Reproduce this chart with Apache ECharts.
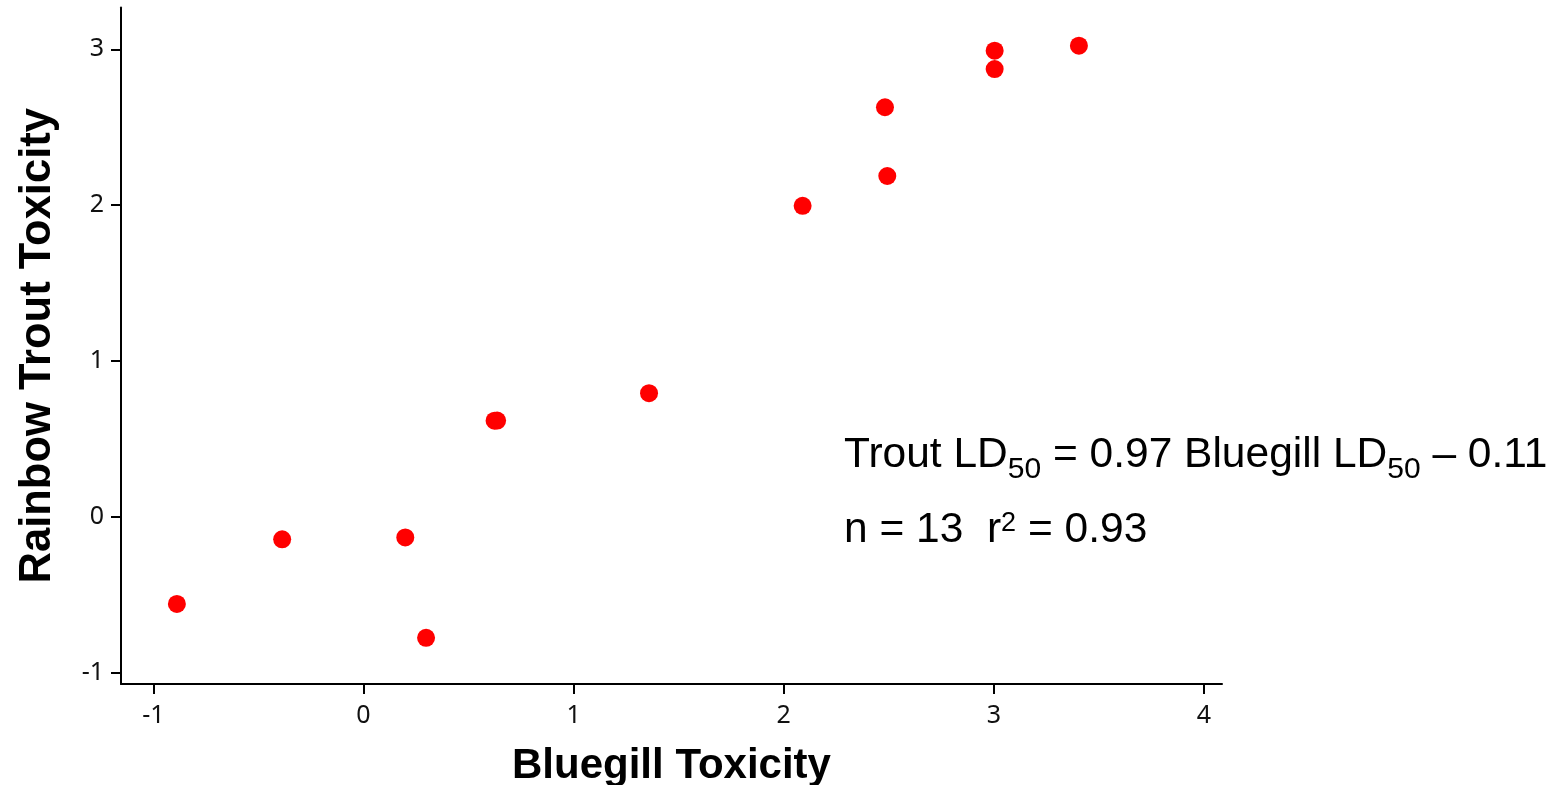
<!DOCTYPE html>
<html>
<head>
<meta charset="utf-8">
<script src="https://cdn.jsdelivr.net/npm/echarts@6/dist/echarts.min.js"></script>
<style>
  html, body { margin: 0; padding: 0; background: #fff; }
  #chart { width: 1564px; height: 785px; }
</style>
</head>
<body>
<div id="chart"></div>
<script>
// 13 species, LD50 on log scale
var bluegill = [-0.888, -0.387, 0.199, 0.298, 0.624, 0.636, 1.359, 2.090, 2.482, 2.493, 3.004, 3.004, 3.405]
var trout = [-0.558, -0.144, -0.132, -0.776, 0.617, 0.618, 0.794, 1.996, 2.628, 2.187, 2.991, 2.873, 3.023]
var xTicks = [-1, 0, 1, 2, 3, 4]
var yTicks = [-1, 0, 1, 2, 3]

var points = bluegill.map(function (x, i) { return [x, trout[i]] })

var chart = echarts.init(document.getElementById('chart'))

var axisBase = {
  type: 'value',
  splitLine: { show: false },
  axisLine: { onZero: false, lineStyle: { color: '#000', width: 2 } },
  axisTick: { lineStyle: { color: '#000', width: 2 }, length: 10 },
  axisLabel: { color: '#111', fontFamily: 'Noto Sans', fontSize: 25 },
  nameLocation: 'middle',
  nameTextStyle: { color: '#000', fontFamily: 'Liberation Sans', fontWeight: 'bold', fontSize: 42 }
}

chart.setOption({
  animation: false,
  backgroundColor: '#fff',
  // keep the plot box where it is, labels may run to the edge
  grid: { left: 121, right: 342, top: 7.5, bottom: 101, outerBoundsMode: 'none' },
  xAxis: echarts.util.merge({
    min: -1.154,
    max: 4.086,
    name: 'Bluegill Toxicity',
    nameGap: 61,
    axisTick: { customValues: xTicks },
    axisLabel: { customValues: xTicks, margin: 19 }
  }, axisBase),
  yAxis: echarts.util.merge({
    min: -1.072,
    max: 3.268,
    name: 'Rainbow Trout Toxicity',
    nameGap: 61,
    nameTextStyle: { fontSize: 43.5 },
    axisTick: { customValues: yTicks },
    axisLabel: { customValues: yTicks, margin: 17 }
  }, axisBase),
  series: [{
    type: 'scatter',
    data: points,
    symbolSize: 18,
    itemStyle: { color: '#ff0000', opacity: 1 }
  }],
  graphic: [
    {
      type: 'text',
      left: 844,
      top: 426,
      style: {
        text: '{m|Trout LD}{s|50}{m| = 0.97 Bluegill LD}{s|50}{m| – 0.11}',
        rich: {
          m: { fontFamily: 'Liberation Sans', fontSize: 42.5, lineHeight: 50, fill: '#000' },
          s: { fontFamily: 'Liberation Sans', fontSize: 30, lineHeight: 50, padding: [29, 0, 0, 0], fill: '#000' }
        }
      }
    },
    {
      type: 'text',
      left: 844,
      top: 509,
      style: {
        text: '{m|n = 13  r}{p|2}{m| = 0.93}',
        rich: {
          m: { fontFamily: 'Liberation Sans', fontSize: 42.5, lineHeight: 50, fill: '#000' },
          p: { fontFamily: 'Liberation Sans', fontSize: 27, lineHeight: 50, padding: [0, 0, 14, 0], fill: '#000' }
        }
      }
    }
  ]
})
</script>
</body>
</html>
